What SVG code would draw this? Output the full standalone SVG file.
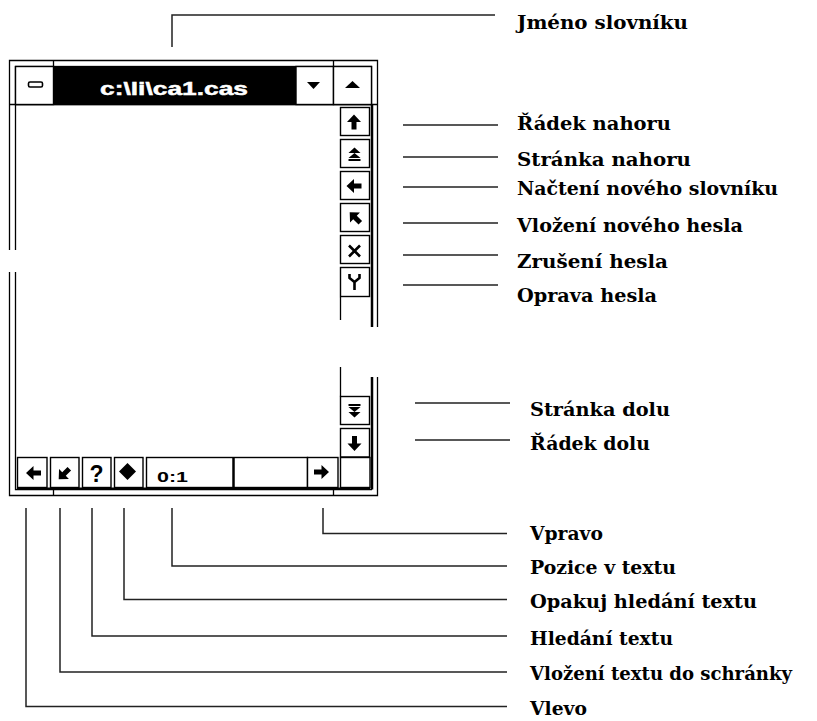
<svg xmlns="http://www.w3.org/2000/svg" width="817" height="721" viewBox="0 0 817 721">
<style>
.ln{stroke:#000;stroke-width:1.3;fill:none}
.thk{stroke:#000;stroke-width:2.5;fill:none}
.btn{fill:#fff;stroke:#000;stroke-width:1.4}
.sh{stroke:#000;stroke-width:2;fill:none}
.ico{fill:#000;stroke:none}
.con{stroke:#222;stroke-width:1.5;fill:none}
.ui{font-family:"Liberation Sans",Arial,sans-serif;font-weight:bold}
</style>
<defs>
<polygon id="arr" class="ico" points="0,-7.5 7,0 2.5,0 2.5,7.5 -2.5,7.5 -2.5,0 -7,0"/>
<g id="pgdn" class="ico">
<rect x="-6" y="-7" width="12" height="2"/>
<polygon points="-6,-4 6,-4 0,1"/>
<polygon points="-6,1 6,1 0,6.5"/>
</g>
</defs>
<rect width="817" height="721" fill="#fff"/>

<g id="window-frame">
<path class="ln" d="M9.5,250 V60.5 H377.5 V327 M377.5,377 V495.5 H9.5 V272"/>
<path class="ln" d="M15.5,104.5 V250 M15.5,272 V489.5 H372"/>
<path class="ln" d="M9.5,104.5 H377.5"/>
<path class="thk" d="M372,104.5 V327 M372,377 V489.5"/>
<path class="ln" d="M53.5,60.5 V67 M333.5,60.5 V67 M53.5,489.5 V495.5 M333.5,489.5 V495.5"/>
<path class="ln" d="M340.5,297 V320 M340.5,367 V396.5"/>
</g>

<g id="title-bar">
<rect x="15.5" y="66.5" width="356" height="38" fill="#fff" stroke="#000" stroke-width="1.3"/>
<rect x="53.5" y="66.5" width="242.5" height="38" fill="#000"/>
<text class="ui" x="100" y="95" font-size="19" font-weight="normal" fill="#fff" stroke="#fff" stroke-width="0.5" textLength="148" lengthAdjust="spacingAndGlyphs">c:\li\ca1.cas</text>
</g>
<g id="btn-menu">
<rect x="15.5" y="66.5" width="38" height="38" class="btn"/>
<rect x="28.5" y="82" width="14" height="5" rx="1.5" fill="#fff" stroke="#000" stroke-width="1.6"/>
</g>
<g id="btn-dropdown">
<rect x="296" y="66.5" width="37.5" height="38" class="btn"/>
<polygon class="ico" points="307,82 320,82 313.5,89"/>
</g>
<g id="btn-scroll-top">
<rect x="333.5" y="66.5" width="38" height="38" class="btn"/>
<polygon class="ico" points="345,88 360,88 352.5,81"/>
</g>

<g id="btn-line-up">
<rect x="340.5" y="107.5" width="29" height="28" class="btn"/>
<use href="#arr" x="354" y="122"/>
</g>
<g id="btn-page-up">
<rect x="340.5" y="139.5" width="29" height="28" class="btn"/>
<use href="#pgdn" transform="translate(354.5,154) rotate(180)"/>
</g>
<g id="btn-load">
<rect x="340.5" y="171.5" width="29" height="28" class="btn"/>
<use href="#arr" transform="translate(354,186) rotate(-90)"/>
</g>
<g id="btn-insert">
<rect x="340.5" y="203.5" width="29" height="28" class="btn"/>
<use href="#arr" transform="translate(355,217.5) rotate(-45)"/>
</g>
<g id="btn-delete">
<rect x="340.5" y="235.5" width="29" height="28" class="btn"/>
<path d="M349,245.5 L360,256.5 M360,245.5 L349,256.5" stroke="#000" stroke-width="2.6" fill="none"/>
</g>
<g id="btn-edit">
<rect x="340.5" y="267.5" width="29" height="29" class="btn"/>
<path d="M349.5,274 V278 L354.5,282 L359.5,278 V274 M354.5,282 V290" stroke="#000" stroke-width="2.6" fill="none"/>
</g>
<g id="btn-page-down">
<rect x="340.5" y="396.5" width="29" height="28" class="btn"/>
<use href="#pgdn" x="354.5" y="411"/>
</g>
<g id="btn-line-down">
<rect x="340.5" y="428.5" width="29" height="28.5" class="btn"/>
<use href="#arr" transform="translate(354.5,443.5) rotate(180)"/>
</g>
<g id="corner-box">
<rect x="340.5" y="457.5" width="29.5" height="30" class="btn"/>
</g>

<g id="btn-left">
<rect x="17.5" y="457.5" width="29.5" height="30" class="btn"/>
<use href="#arr" transform="translate(33.5,473) rotate(-90)"/>
</g>
<g id="btn-clipboard">
<rect x="50.5" y="457.5" width="28.5" height="30" class="btn"/>
<use href="#arr" transform="translate(64,474) rotate(225)"/>
</g>
<g id="btn-find">
<rect x="82.5" y="457.5" width="28.5" height="30" class="btn"/>
<text class="ui" x="96.5" y="482" font-size="23" text-anchor="middle">?</text>
</g>
<g id="btn-find-again">
<rect x="114.5" y="457.5" width="28.5" height="30" class="btn"/>
<polygon class="ico" points="127.5,463 136,471.5 127.5,480 119,471.5"/>
</g>
<g id="position-field">
<rect x="146.5" y="457.5" width="161" height="30" class="btn"/>
<path d="M233.5,457.5 V487.5" stroke="#000" stroke-width="2.5"/>
<text class="ui" x="157" y="482" font-size="14" textLength="31" lengthAdjust="spacingAndGlyphs">0:1</text>
</g>
<g id="btn-right">
<rect x="307.5" y="457.5" width="30.5" height="30" class="btn"/>
<use href="#arr" transform="translate(321.5,472) rotate(90)"/>
</g>
<path class="sh" d="M17,488.5 H370"/>

<g id="connectors">
<path class="con" d="M172,47 V15 H495"/>
<path class="con" d="M403,125 H498 M403,157 H498 M403,187 H498 M403,223 H498 M403,255 H498 M403,285 H498"/>
<path class="con" d="M415,403 H510 M415,440 H510"/>
<path class="con" d="M323,508 V533.5 H507"/>
<path class="con" d="M172,508 V566 H507"/>
<path class="con" d="M124,508 V599.5 H507"/>
<path class="con" d="M92,508 V636 H507"/>
<path class="con" d="M60,508 V672 H507"/>
<path class="con" d="M26,508 V706.5 H507"/>
</g>

<g id="labels" font-family="'DejaVu Serif', 'Liberation Serif', serif" font-weight="bold" font-size="18" fill="#000">
<g id="lbl-jmeno"><text x="517" y="29" textLength="171" lengthAdjust="spacingAndGlyphs">Jméno slovníku</text></g>
<g id="lbl-radek-nahoru"><text x="517" y="130" textLength="154" lengthAdjust="spacingAndGlyphs">Řádek nahoru</text></g>
<g id="lbl-stranka-nahoru"><text x="517" y="166" textLength="174" lengthAdjust="spacingAndGlyphs">Stránka nahoru</text></g>
<g id="lbl-nacteni"><text x="517" y="195" textLength="261" lengthAdjust="spacingAndGlyphs">Načtení nového slovníku</text></g>
<g id="lbl-vlozeni-hesla"><text x="517" y="232" textLength="226" lengthAdjust="spacingAndGlyphs">Vložení nového hesla</text></g>
<g id="lbl-zruseni"><text x="517" y="268" textLength="151" lengthAdjust="spacingAndGlyphs">Zrušení hesla</text></g>
<g id="lbl-oprava"><text x="517" y="302" textLength="140" lengthAdjust="spacingAndGlyphs">Oprava hesla</text></g>
<g id="lbl-stranka-dolu"><text x="530" y="416" textLength="140" lengthAdjust="spacingAndGlyphs">Stránka dolu</text></g>
<g id="lbl-radek-dolu"><text x="530" y="450" textLength="120" lengthAdjust="spacingAndGlyphs">Řádek dolu</text></g>
<g id="lbl-vpravo"><text x="530" y="540" textLength="73" lengthAdjust="spacingAndGlyphs">Vpravo</text></g>
<g id="lbl-pozice"><text x="530" y="574" textLength="146" lengthAdjust="spacingAndGlyphs">Pozice v textu</text></g>
<g id="lbl-opakuj"><text x="530" y="608" textLength="227" lengthAdjust="spacingAndGlyphs">Opakuj hledání textu</text></g>
<g id="lbl-hledani"><text x="530" y="645" textLength="143" lengthAdjust="spacingAndGlyphs">Hledání textu</text></g>
<g id="lbl-vlozeni-textu"><text x="530" y="680" textLength="262" lengthAdjust="spacingAndGlyphs">Vložení textu do schránky</text></g>
<g id="lbl-vlevo"><text x="530" y="715" textLength="57" lengthAdjust="spacingAndGlyphs">Vlevo</text></g>
</g>
</svg>
